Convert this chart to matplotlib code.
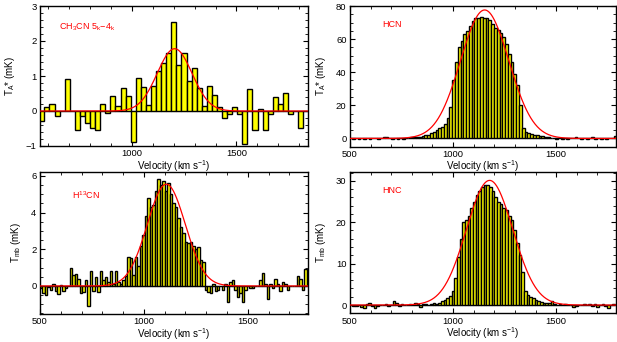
import numpy as np
import matplotlib
matplotlib.use('Agg')
from matplotlib import pyplot as plt
from matplotlib.ticker import MultipleLocator

plt.rcParams['font.family'] = ['Liberation Sans', 'DejaVu Sans']
plt.rcParams['mathtext.default'] = 'regular'

# CH3CN 5k-4k  (channel centres start at 572 km/s, 24.2 km/s wide)
ch3cn_v0, ch3cn_dv = 572.0, 24.2
ch3cn_t = [-0.3, 0.1, 0.2, -0.15, 0.0, 0.9, 0.0, -0.55, -0.15, -0.35,
           -0.5, -0.55, 0.2, -0.05, 0.42, 0.15, 0.65, 0.42, -0.9, 0.95,
           0.68, 0.18, 0.72, 1.15, 1.38, 1.65, 2.55, 1.32, 1.65, 0.85,
           1.22, 0.65, 0.15, 0.72, 0.45, 0.1, -0.2, -0.08, 0.1, -0.08,
           -0.95, 0.62, -0.55, 0.05, -0.55, -0.1, 0.4, 0.2, 0.52, -0.1,
           0.0, -0.48, 0.0]
ch3cn_fit = (1.78, 1205.0, 195.0)   # peak, centre, FWHM

# HCN
hcn_v0, hcn_dv = 503.0, 13.5
hcn_t = [0.2, -0.3, 0.1, -0.2, 0.3, -0.1, 0.2, -0.4, 0.1, 0.3,
         -0.2, 0.0, 0.6, 1.0, 0.2, -0.3, 0.1, -0.2, 0.3, -0.4,
         0.2, 0.5, 0.8, 0.6, 1.0, 0.8, 1.2, 2.0, 2.2, 3.0,
         4.0, 4.8, 6.0, 7.0, 9.0, 12.5, 19.0, 35.0, 46.0, 55.0,
         59.0, 63.0, 65.0, 68.0, 71.0, 72.5, 73.0, 73.5, 73.0, 72.5,
         71.5, 69.0, 67.0, 65.5, 63.5, 61.0, 57.0, 51.0, 46.0, 39.0,
         32.0, 20.0, 6.0, 4.0, 3.0, 2.5, 2.0, 2.0, 1.5, 1.2,
         1.0, 0.6, 0.4, 0.2, -0.3, 0.1, -0.2, 0.2, -0.3, 0.1,
         0.5, 0.8, 0.1, -0.3, 0.2, -0.1, 0.3, 0.6, -0.2, 0.1,
         -0.3, 0.2, -0.1, 0.3, 0.2, 1.2]
hcn_fit = (77.6, 1153.0, 275.0)

# H13CN
h13cn_v0, h13cn_dv = 506.0, 12.0
h13cn_t = [-0.1, -0.4, -0.5, -0.05, -0.2, 0.1, -0.25, -0.45, 0.05, -0.3,
           -0.1, 0.0, 1.0, 0.6, 0.65, 0.4, -0.4, -0.35, 0.3, -1.1,
           0.8, -0.3, 0.5, -0.35, 0.8, 0.3, 0.5, 0.2, 0.8, 0.1,
           0.8, 0.2, 0.1, 0.3, 0.55, 1.6, 1.5, 0.6, 1.6, 1.1,
           2.2, 2.8, 3.8, 4.8, 4.3, 4.4, 5.2, 5.85, 5.5, 5.7,
           5.2, 5.6, 5.0, 4.5, 4.3, 3.7, 3.2, 2.9, 2.4, 2.35,
           2.4, 2.2, 2.0, 2.1, 1.4, 1.3, -0.2, -0.35, -0.4, 0.1,
           -0.3, -0.2, 0.0, -0.2, 0.1, -0.9, 0.2, 0.35, -0.2, -0.6,
           -0.4, -0.9, -0.2, 0.0, -0.1, -0.1, 0.0, 0.0, 0.3, 0.7,
           0.1, -0.7, 0.1, -0.1, 0.4, 0.1, -0.3, 0.2, 0.1, -0.2,
           0.0, 0.0, 0.0, 0.55, 0.4, -0.2, 0.9]
h13cn_fit = (5.55, 1108.0, 215.0)

# HNC
hnc_v0, hnc_dv = 505.0, 13.0
hnc_t = [0.1, -0.3, -0.2, 0.1, -0.4, -0.6, 0.2, 0.4, -0.2, -0.8,
         -0.2, 0.1, -0.1, 0.2, -0.3, 0.1, 0.9, 0.6, -0.2, 0.2,
         -0.1, 0.1, 0.3, 0.1, 0.6, 0.3, -0.4, 0.2, 0.3, 0.1,
         0.2, 0.4, 0.3, 0.6, 0.9, 1.2, 1.6, 2.2, 3.5, 6.5,
         11.5, 16.0, 20.0, 20.5, 21.5, 23.5, 25.0, 26.5, 27.5, 28.5,
         29.0, 29.0, 28.5, 27.5, 26.0, 25.0, 24.5, 23.5, 23.0, 21.5,
         20.5, 18.0, 15.0, 12.0, 8.0, 3.5, 2.5, 2.0, 1.6, 1.2,
         1.0, 0.7, 0.5, 0.6, 0.4, 0.9, 0.3, 0.1, 0.2, -0.1,
         0.2, 0.1, 0.1, -0.4, -0.2, 0.1, 0.0, 0.2, -0.1, 0.3,
         -0.3, 0.2, -0.4, 0.1, 0.2, -0.2, -0.7, 0.1, 0.3]
hnc_fit = (30.1, 1177.0, 265.0)


def gauss(v, amp, cen, fwhm):
    sig = fwhm / 2.3548
    return amp * np.exp(-0.5 * ((v - cen) / sig) ** 2)


def panel(rect, v0, dv, t, fit, xlim, ylim, ymaj, ymin, ylabel, name, namepos):
    ax = fig.add_axes(rect)
    v = v0 + dv * np.arange(len(t))
    ax.axhline(0, color='0.55', lw=0.8, zorder=1)
    ax.bar(v, t, width=dv, color='yellow', edgecolor='black',
           linewidth=1.0, zorder=2)
    vv = np.linspace(xlim[0], xlim[1], 600)
    ax.plot(vv, gauss(vv, *fit), color='red', lw=0.9, zorder=3)
    ax.set_xlim(xlim)
    ax.set_ylim(ylim)
    ax.xaxis.set_major_locator(MultipleLocator(500))
    ax.xaxis.set_minor_locator(MultipleLocator(100))
    ax.yaxis.set_major_locator(MultipleLocator(ymaj))
    ax.yaxis.set_minor_locator(MultipleLocator(ymin))
    ax.tick_params(which='both', direction='in', top=True, right=True,
                   labelsize=6.8, pad=2.5)
    ax.tick_params(which='major', length=3.5, width=0.8)
    ax.tick_params(which='minor', length=2, width=0.6)
    for s in ax.spines.values():
        s.set_linewidth(1.0)
    ax.set_xlabel('Velocity (km s$^{-1}$)', fontsize=7, labelpad=-0.5)
    ax.set_ylabel(ylabel, fontsize=7, labelpad=6)
    ax.text(namepos[0], namepos[1], name, color='red', fontsize=6.5,
            transform=ax.transAxes)
    return ax


fig = plt.figure(figsize=(6.17, 3.42), dpi=100)

W, H = 617.0, 342.0
panel([40 / W, 1 - 146 / H, 268 / W, 140 / H], ch3cn_v0, ch3cn_dv, ch3cn_t,
      ch3cn_fit, (563, 1841), (-1, 3), 1, 0.2, 'T$_A$* (mK)',
      'CH$_3$CN 5$_k$$-$4$_k$', (0.07, 0.83))
panel([350 / W, 1 - 146.7 / H, 266 / W, 140.7 / H], hcn_v0, hcn_dv, hcn_t,
      hcn_fit, (500, 1790), (-5, 80), 20, 5, 'T$_A$* (mK)',
      'HCN', (0.12, 0.85))
panel([40 / W, 1 - 314 / H, 268 / W, 142.3 / H], h13cn_v0, h13cn_dv, h13cn_t,
      h13cn_fit, (500, 1790), (-1.53, 6.23), 2, 0.5, 'T$_{mb}$ (mK)',
      'H$^{13}$CN', (0.12, 0.81))
panel([350 / W, 1 - 313.3 / H, 266 / W, 141.6 / H], hnc_v0, hnc_dv, hnc_t,
      hnc_fit, (500, 1790), (-2, 32.2), 10, 2, 'T$_{mb}$ (mK)',
      'HNC', (0.12, 0.85))

fig.savefig('out.png', dpi=100)
